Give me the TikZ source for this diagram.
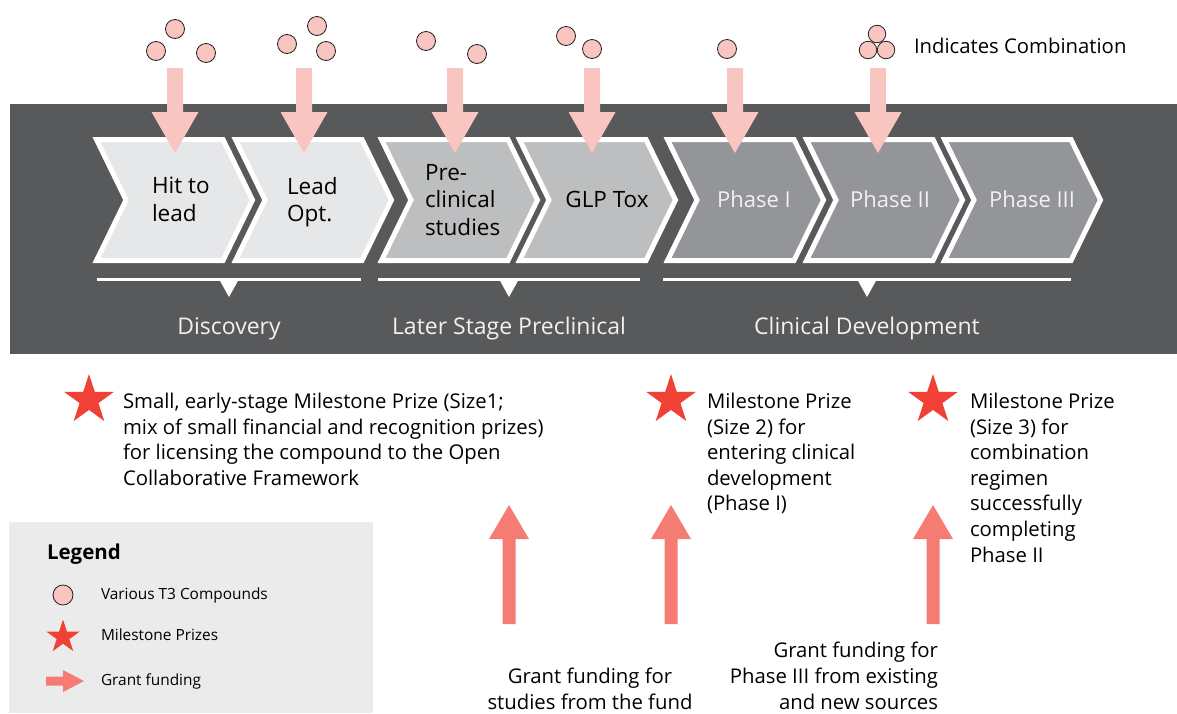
\documentclass[tikz,border=0pt]{standalone}
\usepackage{fontspec}
\setmainfont{Open Sans}
\usetikzlibrary{shapes.geometric}
\definecolor{band}{HTML}{58595B}
\definecolor{chevA}{HTML}{E6E7E8}
\definecolor{chevB}{HTML}{BCBEC0}
\definecolor{chevC}{HTML}{939598}
\definecolor{pinkA}{HTML}{F8C5C0}
\definecolor{salmon}{HTML}{F47C73}
\definecolor{starred}{HTML}{EF4136}
\definecolor{legbg}{HTML}{EBEBEB}
\definecolor{outline}{HTML}{231F20}
\definecolor{lighttext}{HTML}{F1F1F2}
\newcommand\chevpath[2]{%
  \draw[chev=#2] ({#1+2.5},139.5) -- ({#1+129},139.5) -- ({#1+158.5},200) -- ({#1+129},260.5) -- ({#1+2.5},260.5) -- ({#1+32},200) -- cycle;}
\newcommand\downarr[2]{%
  \fill[pinkA] ({#1-8},68) -- ({#1+8},68) -- ({#1+8},112) -- ({#1+23.5},112) -- (#2) -- ({#1-23.5},112) -- ({#1-8},112) -- cycle;}
\newcommand\uparr[1]{%
  \fill[salmon] ({#1-6.5},624) -- ({#1+6.5},624) -- ({#1+6.5},539) -- ({#1+20},539) -- (#1,505) -- ({#1-20},539) -- ({#1-6.5},539) -- cycle;}
\tikzset{
  every node/.style={inner sep=0pt, outer sep=0pt},
  chev/.style={fill=#1, draw=white, line width=5pt, line join=miter},
  cpd/.style={circle, fill=pinkA, draw=outline, line width=0.8pt, minimum size=19pt},
  prize/.style={star, star points=5, star point ratio=2.618, fill=starred, minimum size=#1},
  chevtext/.style={font=\fontsize{22.5}{27.5}\selectfont, align=left, text=black},
  phasetext/.style={font=\fontsize{22}{26}\selectfont, text=lighttext},
  stagelabel/.style={font=\fontsize{23}{26}\selectfont, text=lighttext},
  body/.style={font=\fontsize{20.3}{25.6}\selectfont, align=left, text=black},
  legtext/.style={font=\fontsize{15.4}{17}\selectfont, text=black, anchor=west},
  bracket/.style={draw=white, line width=3pt},
}
\begin{document}
\begin{tikzpicture}[x=1pt,y=-1pt]
\useasboundingbox (0,0) rectangle (1177,713);
% dark band
\fill[band] (10,104) rectangle (1177,354);
% chevrons
\chevpath{94}{chevA}
\chevpath{233}{chevA}
\chevpath{379}{chevB}
\chevpath{517}{chevB}
\chevpath{665}{chevC}
\chevpath{804}{chevC}
\chevpath{942}{chevC}
% chevron texts
\node[chevtext, anchor=north west] (hit) at (152,177) {Hit to\\lead};
\node[chevtext, anchor=north west] (lead) at (287,177) {Lead\\Opt.};
\node[chevtext, anchor=north west] (pre) at (425,164) {Pre-\\clinical\\studies};
\node[chevtext, anchor=base] (glp) at (607,207) {GLP Tox};
\node[phasetext, anchor=base] (ph1) at (754,207) {Phase I};
\node[phasetext, anchor=base] (ph2) at (890,207) {Phase II};
\node[phasetext, anchor=base] (ph3) at (1032,207) {Phase III};
% target points of the arrows
\coordinate (t1) at (175,153);
\coordinate (t2) at (304,153);
\coordinate (t3) at (455,153);
\coordinate (t4) at (592,153);
\coordinate (t5) at (735,153);
\coordinate (t6) at (878,153);
\downarr{175}{t1}
\downarr{304}{t2}
\downarr{455}{t3}
\downarr{592}{t4}
\downarr{735}{t5}
\downarr{878}{t6}
% compounds
\node[cpd] (c11) at (156,51) {};
\node[cpd] (c12) at (175,29) {};
\node[cpd] (c13) at (206,53) {};
\node[cpd] (c21) at (287,44) {};
\node[cpd] (c22) at (317,26) {};
\node[cpd] (c23) at (326,51) {};
\node[cpd] (c31) at (426,41) {};
\node[cpd] (c32) at (477,54) {};
\node[cpd] (c41) at (566,36) {};
\node[cpd] (c42) at (592,49) {};
\node[cpd] (c51) at (727,49) {};
\node[cpd, minimum size=17.5pt] (k1) at (877,34) {};
\node[cpd, minimum size=17.5pt] (k2) at (868,50) {};
\node[cpd, minimum size=17.5pt] (k3) at (886,50) {};
\node[body, anchor=base west] (comb) at (914,53) {Indicates Combination};
% brackets
\draw[bracket] (97,279) -- (361,279);
\draw[bracket] (378,279) -- (640,279);
\draw[bracket] (663,279) -- (1071,279);
\fill[white] (219,279) -- (239,279) -- (229,297) -- cycle;
\fill[white] (499,279) -- (519,279) -- (509,297) -- cycle;
\fill[white] (857,279) -- (877,279) -- (867,297) -- cycle;
\node[stagelabel, anchor=base] (disc) at (229,334) {Discovery};
\node[stagelabel, anchor=base] (later) at (509,334) {Later Stage Preclinical};
\node[stagelabel, anchor=base] (clin) at (867,334) {Clinical Development};
% milestone prizes
\node[prize=52pt] (s1) at (89,400) {};
\node[prize=52pt] (s2) at (671,400) {};
\node[prize=52pt] (s3) at (933,400) {};
\node[body, anchor=north west] (p1) at (123,393) {Small, early-stage Milestone Prize (Size1;\\mix of small financial and recognition prizes)\\for licensing the compound to the Open\\Collaborative Framework};
\node[body, anchor=north west] (p2) at (707,393) {Milestone Prize\\(Size 2) for\\entering clinical\\development\\(Phase I)};
\node[body, anchor=north west] (p3) at (970,393) {Milestone Prize\\(Size 3) for\\combination\\regimen\\successfully\\completing\\Phase II};
% grant funding arrows
\uparr{509}
\uparr{671}
\uparr{933}
\node[body, align=center, anchor=base] (g1) at (590,709) {Grant funding for\\studies from the fund};
\node[body, align=right, anchor=base east] (g2) at (938,709) {Grant funding for\\Phase III from existing\\and new sources};
% legend
\fill[legbg] (9,522) rectangle (373,713);
\node[font=\fontsize{20.5}{24}\bfseries, anchor=base west] (leg) at (47,559) {Legend};
\node[cpd, minimum size=20pt] (lc) at (63,595) {};
\node[legtext] (lct) at (101,595) {Various T3 Compounds};
\node[prize=35pt] (ls) at (63,637) {};
\node[legtext] (lst) at (101,635) {Milestone Prizes};
\fill[salmon] (46,676.5) -- (63,676.5) -- (63,670) -- (84,681) -- (63,692) -- (63,685.5) -- (46,685.5) -- cycle;
\coordinate (la) at (65,681);
\node[legtext] (lat) at (101,681) {Grant funding};
\end{tikzpicture}
\end{document}
